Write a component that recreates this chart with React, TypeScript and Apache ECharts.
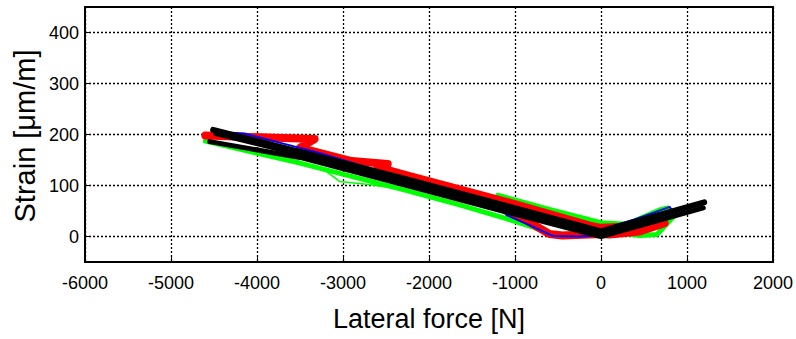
import React, { useEffect, useRef } from "react";
import * as echarts from "echarts";

const xTicks = [-6000, -5000, -4000, -3000, -2000, -1000, 0, 1000, 2000];
const yTicks = [0, 100, 200, 300, 400];
const xTitle = "Lateral force [N]";
const yTitle = "Strain [μm/m]";

const greenPath = [
  [-4600, 187], [-3500, 144], [-2300, 92], [-1645, 62], [-1100, 35], [-800, 19],
  [-570, 3], [-300, 6], [0, 11], [450, 2], [650, 4], [850, 40], [780, 56],
  [680, 52], [300, 24], [0, 27], [-600, 53], [-1200, 81],
];
const greenWiggle = [
  [-3400, 140], [-3200, 128], [-3040, 108], [-2700, 102], [-2300, 92],
];
const bluePath = [
  [-4450, 205], [-4150, 202], [-3300, 165], [-2300, 115], [-1100, 62], [0, 14],
  [400, 34], [800, 58], [830, 50], [500, 26], [0, 2], [-250, 0], [-560, 1],
  [-800, 20], [-1100, 42],
];
const redPath = [
  [-4600, 198], [-3330, 191], [-3500, 174], [-2900, 148], [-2480, 142],
  [-2600, 136], [-2300, 122], [-1100, 68], [-100, 20], [0, 17], [400, 20],
  [740, 26], [450, 10], [100, 4], [0, 5], [-450, 2], [-600, 5], [-850, 30],
  [-1100, 50],
];
const blackUpper = [
  [-4510, 209], [-3500, 166], [-2300, 114], [-1100, 60], [0, 10], [1200, 67],
];
const blackMiddle = [
  [-4480, 202], [-3500, 161], [-2300, 108], [-1100, 54], [0, 5],
];
const blackLower = [
  [-4550, 186], [-3500, 155], [-2300, 102], [-1100, 48], [0, 0], [1190, 56],
];

const font = "Liberation Sans, Arial, sans-serif";

function lineSeries(name: string, data: number[][], color: string, width: number) {
  return {
    name,
    type: "line",
    data,
    showSymbol: false,
    symbol: "none",
    lineStyle: { color, width, join: "round", cap: "round" },
    emphasis: { disabled: true },
  };
}

export default function App() {
  const ref = useRef<HTMLDivElement>(null);
  useEffect(() => {
    if (!ref.current) return;
    const chart = echarts.init(ref.current, null, { renderer: "svg" });
    const grid = { color: "#000", width: 1.3, type: [2, 2] };
    chart.setOption({
      animation: false,
      backgroundColor: "#fff",
      grid: {
        left: 85,
        top: 7,
        width: 689,
        height: 255,
        show: true,
        borderColor: "#000",
        borderWidth: 2,
        backgroundColor: "transparent",
      },
      graphic: [
        {
          type: "text",
          x: 25,
          y: 136,
          rotation: Math.PI / 2,
          style: {
            text: yTitle,
            fontFamily: font,
            fontSize: 29,
            fill: "#000",
            textAlign: "center",
            textVerticalAlign: "middle",
          },
        },
      ],
      xAxis: {
        type: "value",
        min: -6000,
        max: 2000,
        interval: 1000,
        name: xTitle,
        nameLocation: "middle",
        nameGap: 43,
        nameTextStyle: { fontFamily: font, fontSize: 27, color: "#000" },
        axisLine: { show: true, onZero: false, lineStyle: { color: "#000", width: 2 } },
        axisTick: { show: true, inside: true, length: 6, lineStyle: { color: "#000", width: 1 } },
        axisLabel: {
          fontFamily: font,
          fontSize: 18,
          color: "#000",
          margin: 12,
          formatter: (v: number) => String(v),
        },
        splitLine: { show: true, lineStyle: grid },
      },
      yAxis: {
        type: "value",
        min: -50,
        max: 450,
        axisLine: { show: true, onZero: false, lineStyle: { color: "#000", width: 2 } },
        axisTick: {
          show: true,
          inside: true,
          length: 6,
          customValues: yTicks,
          lineStyle: { color: "#000", width: 1 },
        },
        axisLabel: {
          fontFamily: font,
          fontSize: 18,
          color: "#000",
          margin: 6,
          customValues: yTicks,
        },
        splitLine: { show: true, lineStyle: grid },
      },
      series: [
        lineSeries("green", greenPath, "#00ff00", 5),
        lineSeries("green2", greenWiggle, "#00ff00", 1.5),
        lineSeries("red", redPath, "#ff0000", 8),
        lineSeries("blue", bluePath, "#0000ff", 2),
        lineSeries("black upper", blackUpper, "#000000", 6),
        lineSeries("black middle", blackMiddle, "#000000", 5),
        lineSeries("black lower", blackLower, "#000000", 5),
      ],
    });
    return () => chart.dispose();
  }, []);
  return (
    <div
      ref={ref}
      style={{ position: "fixed", left: 0, top: 0, width: 796, height: 339, background: "#fff" }}
    />
  );
}
